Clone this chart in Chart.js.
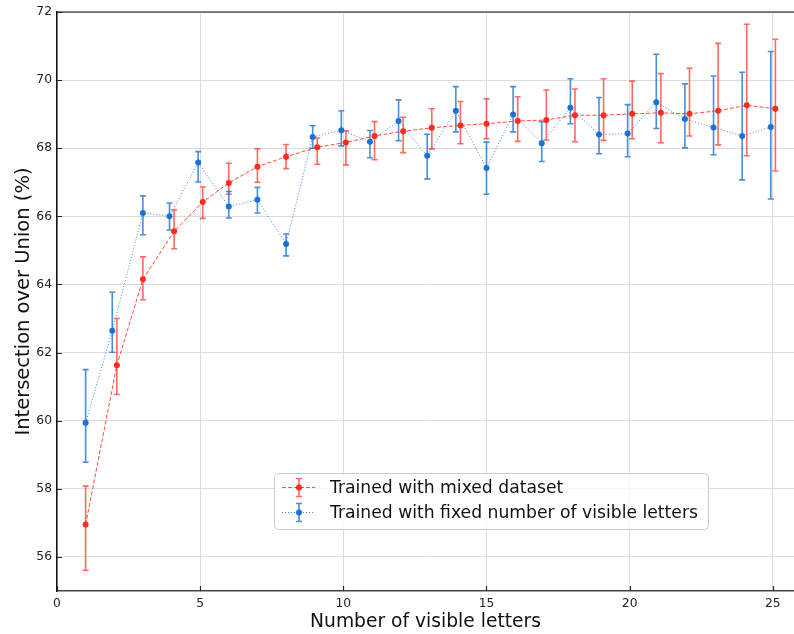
<!DOCTYPE html>
<html>
<head>
<meta charset="utf-8">
<script src="https://cdn.jsdelivr.net/npm/chart.js@4.4.0/dist/chart.umd.min.js"></script>
<style>
  html, body { margin: 0; padding: 0; background: #fff; overflow: hidden; }
  #wrap { width: 794px; height: 634px; }
</style>
</head>
<body>
<div id="wrap"><canvas id="iouChart"></canvas></div>
<script>
// x positions (points are nudged slightly apart where bars would overlap)
const xMixed = [1, 2.09, 3, 4.09, 5.09, 6, 7, 8, 9.09, 10.09, 11.09, 12.09, 13.09,
                14.09, 15, 16.09, 17.09, 18.09, 19.09, 20.09, 21.09, 22.09, 23.09, 24.09, 25.09];
const xFixed = [1, 1.93, 3, 3.93, 4.93, 6, 7, 8, 8.93, 9.93, 10.93, 11.93, 12.93,
                13.93, 15, 15.93, 16.93, 17.93, 18.93, 19.93, 20.93, 21.93, 22.93, 23.93, 24.93];

// mean IoU (%) and error bar ends
const iouMixed  = [56.95, 61.63, 64.15, 65.56, 66.42, 66.98, 67.46, 67.75, 68.03, 68.17, 68.36, 68.50, 68.60,
                   68.67, 68.72, 68.80, 68.83, 68.97, 68.97, 69.01, 69.04, 69.01, 69.10, 69.26, 69.16];
const lowMixed  = [55.61, 60.77, 63.55, 65.05, 65.94, 66.65, 67.00, 67.40, 67.53, 67.51, 67.66, 67.87, 67.98,
                   68.13, 68.28, 68.20, 68.24, 68.19, 68.23, 68.28, 68.16, 68.36, 68.10, 67.78, 67.33];
const highMixed = [58.08, 63.00, 64.81, 66.19, 66.86, 67.56, 67.98, 68.11, 68.30, 68.51, 68.78, 68.91, 69.16,
                   69.37, 69.45, 69.51, 69.71, 69.74, 70.04, 69.97, 70.19, 70.35, 71.08, 71.64, 71.20];

const iouFixed  = [59.94, 62.64, 66.10, 66.00, 67.58, 66.29, 66.49, 65.19, 68.33, 68.53, 68.19, 68.80, 67.78,
                   69.10, 67.42, 68.99, 68.15, 69.19, 68.40, 68.43, 69.35, 68.86, 68.61, 68.36, 68.62];
const lowFixed  = [58.78, 62.01, 65.46, 65.60, 67.01, 65.95, 66.10, 64.84, 68.00, 68.07, 67.72, 68.22, 67.10,
                   68.48, 66.65, 68.48, 67.61, 68.72, 67.84, 67.75, 68.58, 68.01, 67.81, 67.07, 66.51];
const highFixed = [61.50, 63.77, 66.60, 66.39, 67.90, 66.73, 66.85, 65.48, 68.66, 69.10, 68.52, 69.42, 68.41,
                   69.81, 68.18, 69.81, 68.78, 70.04, 69.49, 69.28, 70.76, 69.89, 70.12, 70.23, 70.84];

const xTicks = [0, 5, 10, 15, 20, 25];
const yTicks = [56, 58, 60, 62, 64, 66, 68, 70, 72];

const FONT = "'DejaVu Sans', sans-serif";
const RED = '#ff2b1f';
const BLUE = '#1a72d4';

function toPoints(xs, ys, lo, hi) {
    return xs.map((x, i) => ({ x: x, y: ys[i], lo: lo[i], hi: hi[i] }));
}

// vertical error bars with caps, drawn under the lines and markers
const errorBars = {
    id: 'errorBars',
    beforeDatasetsDraw(chart) {
        const { ctx, scales: { x, y } } = chart;
        ctx.save();
        chart.data.datasets.forEach(ds => {
            ctx.strokeStyle = ds.errColor;
            ctx.lineWidth = 1.6;
            ds.data.forEach(p => {
                const px = x.getPixelForValue(p.x);
                const top = y.getPixelForValue(p.hi);
                const bot = y.getPixelForValue(p.lo);
                ctx.beginPath();
                ctx.moveTo(px, top); ctx.lineTo(px, bot);
                ctx.moveTo(px - 3, top); ctx.lineTo(px + 3, top);
                ctx.moveTo(px - 3, bot); ctx.lineTo(px + 3, bot);
                ctx.stroke();
            });
        });
        ctx.restore();
    }
};

// spines, inward ticks and the legend box inside the plot
const frame = {
    id: 'frame',
    afterDraw(chart) {
        const { ctx, chartArea: a, scales: { x, y } } = chart;
        ctx.save();
        // top spine
        ctx.strokeStyle = '#555';
        ctx.lineWidth = 1.4;
        ctx.beginPath(); ctx.moveTo(a.left, a.top); ctx.lineTo(chart.width, a.top); ctx.stroke();
        // inward ticks
        ctx.strokeStyle = '#222';
        ctx.lineWidth = 1.2;
        ctx.beginPath();
        xTicks.forEach(v => {
            const px = Math.round(x.getPixelForValue(v)) + 0.5;
            ctx.moveTo(px, a.bottom); ctx.lineTo(px, a.bottom - 5);
        });
        yTicks.forEach(v => {
            const py = Math.round(y.getPixelForValue(v)) + 0.5;
            ctx.moveTo(a.left, py); ctx.lineTo(a.left + 5, py);
        });
        ctx.stroke();

        // legend
        const bx = 274, by = 473, bw = 434, bh = 56;
        ctx.fillStyle = 'rgba(255,255,255,0.8)';
        ctx.strokeStyle = '#cccccc';
        ctx.lineWidth = 1;
        ctx.beginPath();
        ctx.roundRect(bx + 0.5, by + 0.5, bw, bh, 4);
        ctx.fill(); ctx.stroke();
        ctx.font = '17.2px ' + FONT;
        ctx.textBaseline = 'middle';
        chart.data.datasets.forEach((ds, i) => {
            const cy = by + 14.5 + i * 25;
            ctx.strokeStyle = ds.borderColor;
            ctx.lineWidth = 1;
            ctx.setLineDash(ds.borderDash);
            ctx.beginPath(); ctx.moveTo(282, cy); ctx.lineTo(315, cy); ctx.stroke();
            ctx.setLineDash([]);
            ctx.strokeStyle = ds.errColor;
            ctx.lineWidth = 1.6;
            ctx.beginPath();
            ctx.moveTo(299, cy - 9); ctx.lineTo(299, cy + 9);
            ctx.moveTo(296, cy - 9); ctx.lineTo(302, cy - 9);
            ctx.moveTo(296, cy + 9); ctx.lineTo(302, cy + 9);
            ctx.stroke();
            ctx.fillStyle = ds.pointBackgroundColor;
            ctx.beginPath(); ctx.arc(299, cy, 3, 0, Math.PI * 2); ctx.fill();
            ctx.fillStyle = '#111';
            ctx.fillText(ds.label, 330, cy + 1);
        });
        ctx.restore();
    }
};

new Chart(document.getElementById('iouChart'), {
    type: 'scatter',
    data: {
        datasets: [{
            label: 'Trained with mixed dataset',
            data: toPoints(xMixed, iouMixed, lowMixed, highMixed),
            showLine: true,
            borderColor: 'rgba(255,43,31,0.85)',
            borderWidth: 1,
            borderDash: [4, 2],
            errColor: 'rgba(255,43,31,0.7)',
            pointRadius: 3,
            pointBorderWidth: 0,
            pointBackgroundColor: RED
        }, {
            label: 'Trained with fixed number of visible letters',
            data: toPoints(xFixed, iouFixed, lowFixed, highFixed),
            showLine: true,
            borderColor: 'rgba(26,114,212,0.85)',
            borderWidth: 1,
            borderDash: [1, 2],
            errColor: 'rgba(26,114,212,0.8)',
            pointRadius: 3,
            pointBorderWidth: 0,
            pointBackgroundColor: BLUE
        }]
    },
    options: {
        responsive: true,
        maintainAspectRatio: false,
        animation: false,
        layout: { autoPadding: false, padding: { top: 12, right: 0, left: 0, bottom: 0 } },
        plugins: { legend: { display: false }, tooltip: { enabled: false } },
        scales: {
            x: {
                type: 'linear',
                min: 0,
                max: 25.74,
                afterBuildTicks: s => { s.ticks = xTicks.map(v => ({ value: v })); },
                // fixed height, and no extra room for the last tick label
                afterFit: s => { s.height = 43; s.paddingRight = 0; s.paddingLeft = 0; },
                grid: { color: '#dcdcdc', drawTicks: false },
                border: { color: '#444', width: 1.5 },
                ticks: { padding: 5, color: '#222', font: { family: FONT, size: 12.3 } },
                title: {
                    display: true,
                    text: 'Number of visible letters',
                    color: '#111',
                    padding: { top: 0, bottom: 1 },
                    font: { family: FONT, size: 18.7 }
                }
            },
            y: {
                min: 55,
                max: 72,
                afterBuildTicks: s => { s.ticks = yTicks.map(v => ({ value: v })); },
                afterFit: s => { s.width = 57; s.paddingTop = 0; s.paddingBottom = 0; },
                grid: { color: '#dcdcdc', drawTicks: false },
                border: { color: '#111', width: 1.5 },
                ticks: { padding: 5, color: '#222', font: { family: FONT, size: 12.3 } },
                title: {
                    display: true,
                    text: 'Intersection over Union (%)',
                    color: '#111',
                    padding: { top: 12, bottom: 0 },
                    font: { family: FONT, size: 19.5 }
                }
            }
        }
    },
    plugins: [errorBars, frame]
});
</script>
</body>
</html>
